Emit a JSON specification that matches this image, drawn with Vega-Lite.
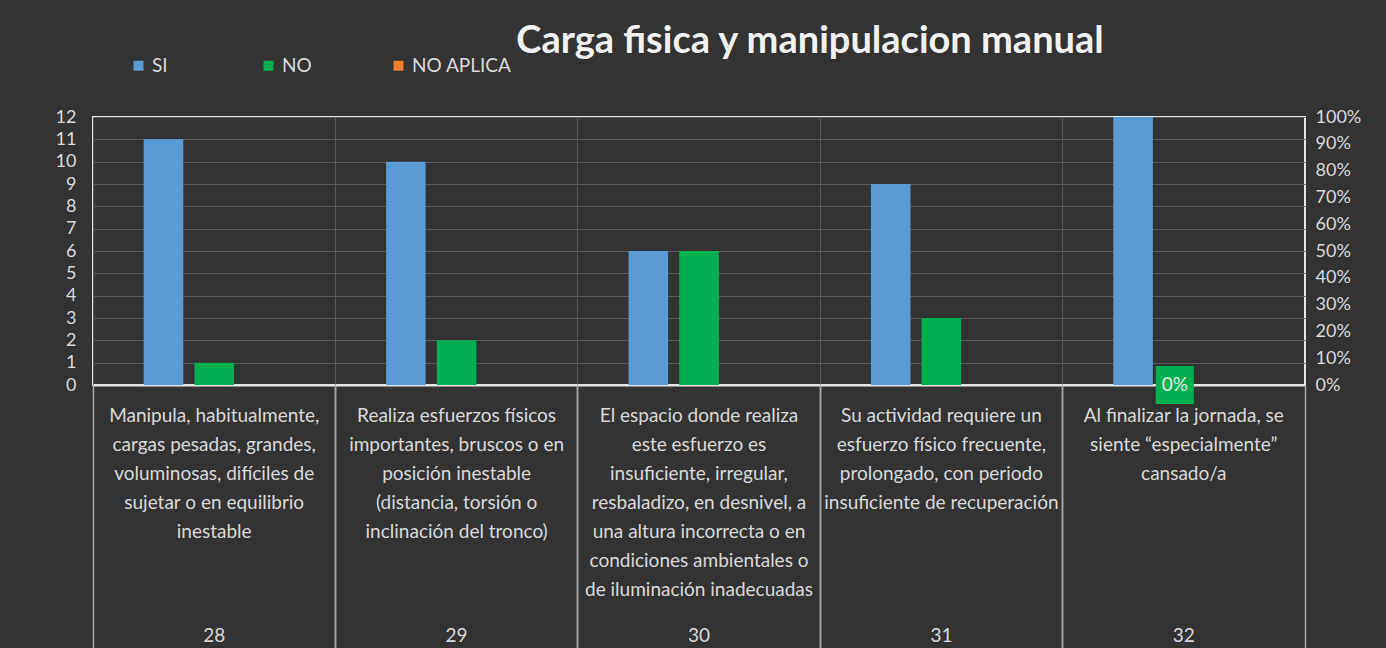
{
  "$schema": "https://vega.github.io/schema/vega-lite/v6.json",
  "width": 1212,
  "height": 268,
  "autosize": "none",
  "padding": {"left": 93, "top": 117, "right": 81, "bottom": 263},
  "background": "#333333",
  "title": {
    "text": "Carga fisica y manipulacion manual",
    "anchor": "middle",
    "font": "Lato",
    "fontWeight": "bold",
    "fontSize": 38,
    "color": "#f2f2f2",
    "dx": 111,
    "dy": 9
  },
  "config": {
    "font": "Lato",
    "view": {"stroke": "#e6e6e6", "strokeWidth": 2}
  },
  "datasets": {
    "barras": [
      {"pregunta": "28|Manipula, habitualmente,|cargas pesadas, grandes,|voluminosas, difíciles de|sujetar o en equilibrio|inestable", "serie": "SI", "valor": 11},
      {"pregunta": "28|Manipula, habitualmente,|cargas pesadas, grandes,|voluminosas, difíciles de|sujetar o en equilibrio|inestable", "serie": "NO", "valor": 1},
      {"pregunta": "28|Manipula, habitualmente,|cargas pesadas, grandes,|voluminosas, difíciles de|sujetar o en equilibrio|inestable", "serie": "NO APLICA", "valor": 0},
      {"pregunta": "29|Realiza esfuerzos físicos|importantes, bruscos o en|posición inestable|(distancia, torsión o|inclinación del tronco)", "serie": "SI", "valor": 10},
      {"pregunta": "29|Realiza esfuerzos físicos|importantes, bruscos o en|posición inestable|(distancia, torsión o|inclinación del tronco)", "serie": "NO", "valor": 2},
      {"pregunta": "29|Realiza esfuerzos físicos|importantes, bruscos o en|posición inestable|(distancia, torsión o|inclinación del tronco)", "serie": "NO APLICA", "valor": 0},
      {"pregunta": "30|El espacio donde realiza|este esfuerzo es|insuficiente, irregular,|resbaladizo, en desnivel, a|una altura incorrecta o en|condiciones ambientales o|de iluminación inadecuadas", "serie": "SI", "valor": 6},
      {"pregunta": "30|El espacio donde realiza|este esfuerzo es|insuficiente, irregular,|resbaladizo, en desnivel, a|una altura incorrecta o en|condiciones ambientales o|de iluminación inadecuadas", "serie": "NO", "valor": 6},
      {"pregunta": "30|El espacio donde realiza|este esfuerzo es|insuficiente, irregular,|resbaladizo, en desnivel, a|una altura incorrecta o en|condiciones ambientales o|de iluminación inadecuadas", "serie": "NO APLICA", "valor": 0},
      {"pregunta": "31|Su actividad requiere un|esfuerzo físico frecuente,|prolongado, con periodo|insuficiente de recuperación", "serie": "SI", "valor": 9},
      {"pregunta": "31|Su actividad requiere un|esfuerzo físico frecuente,|prolongado, con periodo|insuficiente de recuperación", "serie": "NO", "valor": 3},
      {"pregunta": "31|Su actividad requiere un|esfuerzo físico frecuente,|prolongado, con periodo|insuficiente de recuperación", "serie": "NO APLICA", "valor": 0},
      {"pregunta": "32|Al finalizar la jornada, se|siente “especialmente”|cansado/a", "serie": "SI", "valor": 12},
      {"pregunta": "32|Al finalizar la jornada, se|siente “especialmente”|cansado/a", "serie": "NO", "valor": 0},
      {"pregunta": "32|Al finalizar la jornada, se|siente “especialmente”|cansado/a", "serie": "NO APLICA", "valor": 0}
    ],
    "etiqueta": [
      {"pregunta": "32|Al finalizar la jornada, se|siente “especialmente”|cansado/a", "serie": "NO", "pct": 0}
    ]
  },
  "layer": [
    {
      "data": {"name": "barras"},
      "mark": {"type": "bar"},
      "encoding": {
        "x": {
          "field": "pregunta",
          "type": "nominal",
          "scale": {"paddingInner": 0, "paddingOuter": 0},
          "axis": {
            "orient": "bottom",
            "title": null,
            "labelExpr": "slice(split(datum.value, '|'), 1)",
            "labelAngle": 0,
            "labelBaseline": "top",
            "labelFontSize": 19,
            "labelLineHeight": 29,
            "labelPadding": -242,
            "labelColor": "#d9d9d9",
            "labelLimit": 400,
            "labelOverlap": false,
            "bandPosition": 0,
            "ticks": true,
            "tickSize": 263,
            "tickColor": "#a6a6a6",
            "tickWidth": 1.5,
            "grid": true,
            "gridColor": "#5a5a5a",
            "gridWidth": 1,
            "domain": true,
            "domainColor": "#e6e6e6",
            "domainWidth": 2
          }
        },
        "xOffset": {
          "field": "serie",
          "type": "nominal",
          "scale": {"domain": ["SI", "NO", "NO APLICA"], "paddingInner": 0.22, "paddingOuter": 1.085}
        },
        "y": {
          "field": "valor",
          "type": "quantitative",
          "scale": {"domain": [0, 12], "nice": false},
          "axis": {
            "title": null,
            "values": [0, 1, 2, 3, 4, 5, 6, 7, 8, 9, 10, 11, 12],
            "labelFontSize": 18,
            "labelColor": "#d9d9d9",
            "labelPadding": 17,
            "ticks": false,
            "domain": false,
            "grid": true,
            "gridColor": "#5a5a5a",
            "gridWidth": 1
          }
        },
        "color": {
          "field": "serie",
          "type": "nominal",
          "scale": {"domain": ["SI", "NO", "NO APLICA"], "range": ["#5b9bd5", "#00b050", "#ed7d31"]},
          "legend": {
            "title": null,
            "orient": "none",
            "legendX": 36,
            "legendY": -61,
            "direction": "horizontal",
            "columns": 3,
            "gridAlign": "all",
            "columnPadding": 7,
            "symbolType": "square",
            "symbolSize": 100,
            "symbolStrokeWidth": 0,
            "labelFontSize": 19,
            "labelColor": "#d9d9d9"
          }
        }
      }
    },
    {
      "data": {"name": "etiqueta"},
      "encoding": {
        "x": {
          "field": "pregunta",
          "type": "nominal",
          "axis": {
            "orient": "bottom",
            "title": null,
            "labelExpr": "split(datum.value, '|')[0]",
            "labelAngle": 0,
            "labelBaseline": "top",
            "labelFontSize": 19,
            "labelPadding": -22,
            "labelColor": "#d9d9d9",
            "labelOverlap": false,
            "bandPosition": 1,
            "ticks": true,
            "tickSize": 263,
            "tickColor": "#a6a6a6",
            "tickWidth": 1.5,
            "grid": false,
            "domain": false
          }
        },
        "y": {
          "field": "pct",
          "type": "quantitative",
          "scale": {"domain": [0, 1], "nice": false},
          "axis": {
            "orient": "right",
            "title": null,
            "values": [0, 0.1, 0.2, 0.3, 0.4, 0.5, 0.6, 0.7, 0.8, 0.9, 1],
            "format": ".0%",
            "labelFontSize": 18,
            "labelColor": "#d9d9d9",
            "labelPadding": 10,
            "ticks": false,
            "domain": false,
            "grid": false
          }
        }
      },
      "layer": [
        {"mark": {"type": "point", "shape": "square", "filled": true, "size": 1450, "color": "#00b050", "opacity": 1, "xOffset": -9}},
        {"mark": {"type": "text", "fontSize": 19, "color": "#e6e6e6", "dx": -9}, "encoding": {"text": {"field": "pct", "type": "quantitative", "format": ".0%"}}}
      ]
    }
  ],
  "resolve": {
    "scale": {"y": "independent"},
    "axis": {"x": "independent", "y": "independent"}
  }
}
